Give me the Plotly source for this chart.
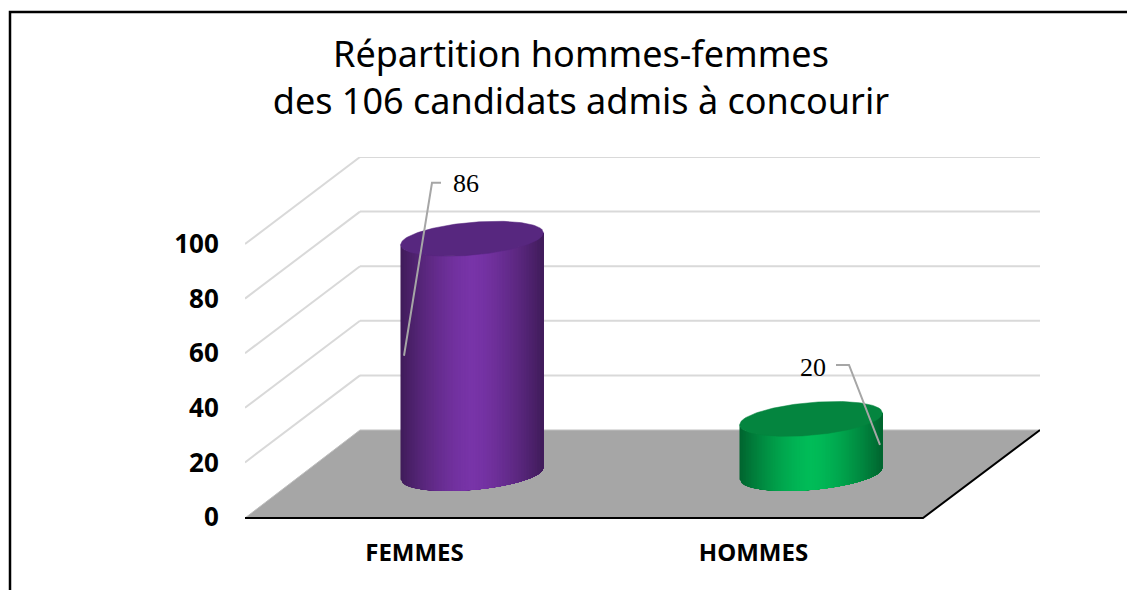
import math
import plotly.graph_objects as go

title_lines = ["Répartition hommes-femmes", "des 106 candidats admis à concourir"]
categories = ["FEMMES", "HOMMES"]
values = [86, 20]
y_ticks = [0, 20, 40, 60, 80, 100]
side_colors = [(0x78, 0x34, 0xA8), (0x00, 0xBC, 0x58)]
top_colors = ["#57277F", "#04853F"]

W, H = 1127, 590
L, R, T, ZERO, B = 245, 1040, 157, 517, 521   # plot box in the page; ZERO is where value 0 sits
PX_X = 339.0                          # pixels per category
PX_Y = 2.73                           # pixels per value unit
DEPTH_X, DEPTH_Y = 115 / PX_X, 87 / PX_Y
RX, RY, TILT = 71.5, 16.4, 6.0
N = 90


def proj(cat, val, depth=0.0):
    return cat + depth * DEPTH_X, val + depth * DEPTH_Y


def off(p, dx, dy):
    """Shift a data point by a number of pixels (dy points down)."""
    return p[0] + dx / PX_X, p[1] - dy / PX_Y


def lower_rim(c, u):
    return off(c, RX * u, RY * math.sqrt(max(0.0, 1 - u * u)) - TILT * u)


def upper_rim(c, u):
    return off(c, RX * u, -RY * math.sqrt(max(0.0, 1 - u * u)) - TILT * u)


def shade(rgb, u):
    k = 1 - 0.47 * abs(u) ** 1.5
    return "rgb(%d,%d,%d)" % tuple(round(v * k) for v in rgb)


fig = go.Figure()
shapes = []

# walls: gridlines
for v in y_ticks[1:]:
    a, b = proj(0, v), proj(0, v, 1)
    shapes.append(dict(type="line", xref="x", yref="y", x0=a[0], y0=a[1], x1=b[0], y1=b[1],
                       line=dict(color="#D9D9D9", width=2), layer="below"))
    shapes.append(dict(type="line", xref="x", yref="y", x0=b[0], y0=b[1], x1=(R - L) / PX_X, y1=b[1],
                       line=dict(color="#D9D9D9", width=2), layer="below"))

# floor
n_cat = len(categories)
f0, f1, f3 = proj(0, 0), proj(n_cat, 0), proj(0, 0, 1)
f2 = ((R - L) / PX_X, f3[1])
f0, f1 = off(f0, 0, 1), off(f1, 0, 1)
shapes.append(dict(type="path", xref="x", yref="y",
                   path=f"M{f0[0]},{f0[1]} L{f1[0]},{f1[1]} L{f2[0]},{f2[1]} L{f3[0]},{f3[1]} Z",
                   fillcolor="#A6A6A6", line=dict(color="#BFBFBF", width=1), layer="below"))
shapes.append(dict(type="path", xref="x", yref="y",
                   path=f"M{f0[0]},{f0[1]} L{f1[0]},{f1[1]} L{f2[0]},{f2[1]}",
                   line=dict(color="#000000", width=2), layer="below"))

# frame (left and top only, it runs off the page on the other sides)
fx = lambda px: (px - L) / (R - L)
fy = lambda py: (B - py) / (B - T)
shapes.append(dict(type="path", xref="paper", yref="paper",
                   path=f"M{fx(10)},{fy(592)} L{fx(10)},{fy(12)} L{fx(1129)},{fy(12)}",
                   line=dict(color="#000000", width=2.5)))

# cylinders: each strip runs to the right edge, so the next one paints over it without seams
for i, (val, rgb, topc) in enumerate(zip(values, side_colors, top_colors)):
    base = proj(i + 0.5, 0, 0.5)
    top = proj(i + 0.5, val, 0.5)
    for s in range(N):
        u0 = -1 + 2 * s / N
        um = u0 + 1 / N
        arc = [u0 + (1 - u0) * j / 40 for j in range(41)]
        pts = [lower_rim(top, u) for u in arc] + [lower_rim(base, u) for u in reversed(arc)]
        pts.append(pts[0])
        col = shade(rgb, um)
        fig.add_trace(go.Scatter(x=[p[0] for p in pts], y=[p[1] for p in pts],
                                 mode="lines", fill="toself", fillcolor=col,
                                 line=dict(color=col, width=0), hoverinfo="skip", showlegend=False))
    us = [-1 + 2 * s / 80 for s in range(81)]
    rim = [lower_rim(top, u) for u in us] + [upper_rim(top, u) for u in reversed(us)]
    fig.add_trace(go.Scatter(x=[p[0] for p in rim], y=[p[1] for p in rim], mode="lines", fill="toself",
                             fillcolor=topc, line=dict(color=topc, width=0.5),
                             hoverinfo="skip", showlegend=False))

# data labels with leader lines, placed relative to the top of each cylinder
label_text_off = [(-6, -55), (2, -51)]
leader_off = [[(-68, 117), (-40, -56), (-31, -56)], [(69, 26), (38, -54), (25, -54)]]
annotations = []
for i, val in enumerate(values):
    top = proj(i + 0.5, val, 0.5)
    pts = [off(top, *o) for o in leader_off[i]]
    fig.add_trace(go.Scatter(x=[p[0] for p in pts], y=[p[1] for p in pts], mode="lines",
                             line=dict(color="#A6A6A6", width=2), hoverinfo="skip", showlegend=False))
    tp = off(top, *label_text_off[i])
    annotations.append(dict(x=tp[0], y=tp[1], xref="x", yref="y", text=str(val), showarrow=False,
                            font=dict(family="Liberation Serif", size=26, color="#000000")))

fig.update_layout(
    width=W, height=H, autosize=False,
    margin=dict(l=L, r=W - R, t=T, b=H - B),
    paper_bgcolor="#FFFFFF", plot_bgcolor="rgba(0,0,0,0)",
    showlegend=False,
    title=dict(text="<br>".join(title_lines), x=0.5155, xanchor="center", y=0.886, yanchor="top",
               font=dict(family="Noto Sans", size=36, color="#000000")),
    shapes=shapes, annotations=annotations,
    xaxis=dict(range=[0, (R - L) / PX_X], tickmode="array",
               tickvals=[i + 0.5 for i in range(n_cat)], ticktext=categories,
               showgrid=False, zeroline=False, showline=False,
               ticks="outside", ticklen=10, tickcolor="rgba(0,0,0,0)",
               tickfont=dict(family="Noto Sans", size=24, color="#000000", weight="bold")),
    yaxis=dict(range=[(ZERO - B) / PX_Y, (ZERO - T) / PX_Y], tickmode="array", tickvals=y_ticks,
               ticktext=[str(v) for v in y_ticks],
               showgrid=False, zeroline=False, showline=False,
               ticks="outside", ticklen=20, tickcolor="rgba(0,0,0,0)",
               tickfont=dict(family="Noto Sans", size=26, color="#000000", weight="bold")),
)

fig.write_html("out.html", config=dict(displayModeBar=False),
               post_script="document.body.style.margin='0';document.body.style.overflow='hidden';")
